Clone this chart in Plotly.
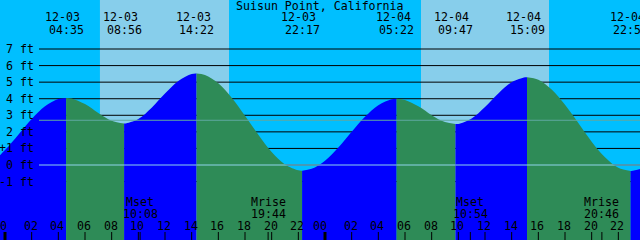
import plotly.graph_objects as go

# ---------------- data ----------------
title = "Suisun Point, California"

# tide extremes (hours from 12-03 00:00, feet)
extreme_hours = [-2.5, 4.583, 8.933, 14.367, 22.283, 29.367, 33.783, 39.15, 46.92, 54.0]
extreme_heights = [-0.30, 4.05, 2.50, 5.52, -0.34, 4.00, 2.47, 5.30, -0.36, 4.00]
extreme_dates = ["12-02", "12-03", "12-03", "12-03", "12-03", "12-04", "12-04", "12-04", "12-04", "12-05"]
extreme_clock = ["21:30", "04:35", "08:56", "14:22", "22:17", "05:22", "09:47", "15:09", "22:55", "06:00"]

# tide height
sample_hours = list(range(-2, 50))
sample_heights = [
    -0.25, 0.16, 0.90, 1.83, 2.77, 3.54, 3.98, 4.02, 3.68, 3.14,
    2.67, 2.50, 2.78, 3.46, 4.31, 5.07, 5.49, 5.43, 4.93, 4.06,
    2.97, 1.82, 0.78, 0.03, -0.32, -0.23, 0.26, 1.05, 2.00, 2.91,
    3.61, 3.97, 3.92, 3.54, 3.01, 2.59, 2.48, 2.81, 3.50, 4.32,
    4.99, 5.29, 5.14, 4.55, 3.63, 2.53, 1.41, 0.47, -0.16, -0.36,
    -0.13, 0.49,
]

sunrise_hours = [7.12, 31.2]
sunset_hours = [16.8, 40.8]

moon_hours = [10.133, 19.733, 34.9, 44.767]
moon_names = ["Mset", "Mrise", "Mset", "Mrise"]
moon_clock = ["10:08", "19:44", "10:54", "20:46"]

ft_levels = [-1, 0, 1, 2, 3, 4, 5, 6, 7]
ft_labels = ["-1 ft", "0 ft", "+1 ft", "2 ft", "3 ft", "4 ft", "5 ft", "6 ft", "7 ft"]
light_levels = [2.7, 0.0]

hour_ticks = list(range(0, 50, 2))

# ---------------- styling ----------------
W, H = 640, 240
X0, X1 = -0.375, 47.625
Y0, Y1 = -4.526, 9.958
FONT = dict(family="DejaVu Sans Mono", size=11.6, color="black")
BLUE = "#0000FF"
GREEN = "#2E8B57"
px_per_hr = W / (X1 - X0)

fig = go.Figure()

# fills between consecutive extremes
for i in range(len(extreme_hours) - 1):
    a, b = extreme_hours[i], extreme_hours[i + 1]
    xs = [a] + [h for h in sample_hours if a < h < b] + [b]
    ys = [extreme_heights[i]] + [v for h, v in zip(sample_hours, sample_heights) if a < h < b] + [extreme_heights[i + 1]]
    rising = extreme_heights[i + 1] > extreme_heights[i]
    col = BLUE if rising else GREEN
    fig.add_trace(go.Scatter(x=[a, b], y=[Y0 - 1, Y0 - 1], mode="lines",
                             line=dict(width=0), hoverinfo="skip", showlegend=False))
    fig.add_trace(go.Scatter(x=xs, y=ys, mode="lines", line=dict(width=0, shape="spline", color=col),
                             fill="tonexty", fillcolor=col, hoverinfo="skip", showlegend=False))

shapes = []
# daylight bands
for sr, ss in zip(sunrise_hours, sunset_hours):
    shapes.append(dict(type="rect", xref="x", yref="paper", x0=sr, x1=ss, y0=0, y1=1,
                       fillcolor="#87CEEB", line=dict(width=0), layer="below"))
# black level lines
gx0 = 39 / W
for lv in ft_levels:
    shapes.append(dict(type="line", xref="paper", yref="y", x0=gx0, x1=1, y0=lv, y1=lv,
                       line=dict(color="black", width=1), layer="below"))
# light reference lines on top
for lv, c in zip(light_levels, ["#5FA8A0", "#8FD3EC"]):
    shapes.append(dict(type="line", xref="paper", yref="y", x0=gx0, x1=1, y0=lv, y1=lv,
                       line=dict(color=c, width=1), layer="above"))
# hour ticks
ty0 = 0
ty1 = 8 / H
for h in hour_ticks:
    wdt = 3 if h % 24 == 0 else 1
    shapes.append(dict(type="line", xref="x", yref="paper", x0=h, x1=h, y0=ty0, y1=ty1,
                       line=dict(color="black", width=wdt), layer="above"))
for h in moon_hours:
    shapes.append(dict(type="line", xref="x", yref="paper", x0=h, x1=h, y0=ty0, y1=ty1,
                       line=dict(color="black", width=1), layer="above"))

ann = []
def py(pix):
    return 1 - pix / H

ann.append(dict(text=title, x=0.5, y=py(6), xref="paper", yref="paper",
                xanchor="center", yanchor="middle", showarrow=False, font=FONT))
for h, d, c in zip(extreme_hours, extreme_dates, extreme_clock):
    if X0 < h < X1 + 1:
        ann.append(dict(text=d, x=h, y=py(17.5), xref="x", yref="paper", xshift=-3.5,
                        xanchor="center", yanchor="middle", showarrow=False, font=FONT))
        ann.append(dict(text=c, x=h, y=py(29.5), xref="x", yref="paper",
                        xanchor="center", yanchor="middle", showarrow=False, font=FONT))
for lv, lab in zip(ft_levels, ft_labels):
    ann.append(dict(text=lab, x=36 / W, y=lv, xref="paper", yref="y",
                    xanchor="right", yanchor="middle", showarrow=False, font=FONT))
for h in hour_ticks:
    lab = "%02d" % (h % 24)
    sh = -5 if h % 24 == 0 else -1
    ann.append(dict(text=lab, x=h, y=py(226), xref="x", yref="paper", xshift=sh,
                    xanchor="center", yanchor="middle", showarrow=False, font=FONT))
for h, n, c in zip(moon_hours, moon_names, moon_clock):
    ann.append(dict(text=n, x=h, y=py(202), xref="x", yref="paper",
                    xanchor="center", yanchor="middle", showarrow=False, font=FONT))
    ann.append(dict(text=c, x=h, y=py(214), xref="x", yref="paper",
                    xanchor="center", yanchor="middle", showarrow=False, font=FONT))

fig.update_layout(
    width=W, height=H, margin=dict(l=0, r=0, t=0, b=0),
    plot_bgcolor="#00BFFF", paper_bgcolor="#00BFFF",
    xaxis=dict(range=[X0, X1], visible=False, fixedrange=True),
    yaxis=dict(range=[Y0, Y1], visible=False, fixedrange=True),
    shapes=shapes, annotations=ann, showlegend=False,
)

fig.write_html("out.html", config={"displayModeBar": False})
